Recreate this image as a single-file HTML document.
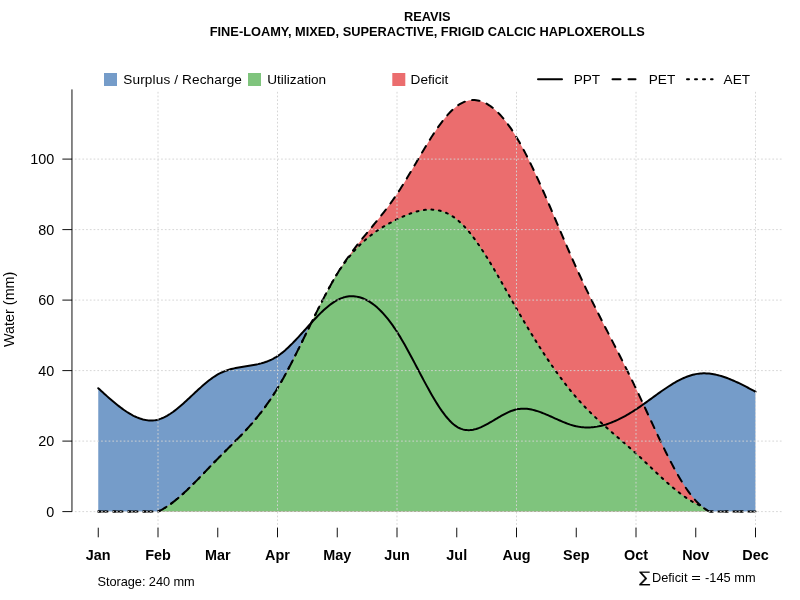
<!DOCTYPE html>
<html lang="en"><head><meta charset="utf-8"><title>REAVIS water balance</title>
<style>html,body{margin:0;padding:0;background:#fff}svg{display:block}.t text{font-family:"Liberation Sans",sans-serif}</style></head>
<body>
<svg width="800" height="600" viewBox="0 0 800 600">
<rect width="800" height="600" fill="#fff"/>
<path d="M98.25,388.23 L99.74,389.60 L101.24,390.96 L102.73,392.33 L104.23,393.69 L105.72,395.03 L107.21,396.37 L108.71,397.70 L110.20,399.00 L111.69,400.30 L113.19,401.57 L114.68,402.82 L116.18,404.04 L117.67,405.24 L119.16,406.41 L120.66,407.55 L122.15,408.66 L123.64,409.73 L125.14,410.76 L126.63,411.76 L128.12,412.71 L129.62,413.62 L131.11,414.48 L132.61,415.30 L134.10,416.06 L135.59,416.77 L137.09,417.43 L138.58,418.02 L140.08,418.56 L141.57,419.04 L143.06,419.45 L144.56,419.80 L146.05,420.08 L147.54,420.29 L149.04,420.43 L150.53,420.49 L152.02,420.47 L153.52,420.38 L155.01,420.20 L156.51,419.94 L158.00,419.60 L159.49,419.17 L160.99,418.65 L162.48,418.05 L163.98,417.38 L165.47,416.63 L166.96,415.82 L168.46,414.94 L169.95,414.00 L171.44,413.00 L172.94,411.95 L174.43,410.84 L175.92,409.70 L177.42,408.51 L178.91,407.28 L180.41,406.02 L181.90,404.72 L183.39,403.41 L184.89,402.06 L186.38,400.70 L187.88,399.32 L189.37,397.94 L190.86,396.54 L192.36,395.14 L193.85,393.74 L195.34,392.35 L196.84,390.96 L198.33,389.58 L199.83,388.22 L201.32,386.88 L202.81,385.56 L204.31,384.27 L205.80,383.01 L207.29,381.78 L208.79,380.59 L210.28,379.44 L211.78,378.34 L213.27,377.29 L214.76,376.30 L216.26,375.36 L217.75,374.48 L219.24,373.66 L220.74,372.91 L222.23,372.22 L223.73,371.58 L225.22,370.99 L226.71,370.45 L228.21,369.95 L229.70,369.50 L231.19,369.08 L232.69,368.70 L234.18,368.35 L235.68,368.02 L237.17,367.72 L238.66,367.44 L240.16,367.18 L241.65,366.93 L243.14,366.69 L244.64,366.46 L246.13,366.23 L247.62,366.00 L249.12,365.77 L250.61,365.53 L252.11,365.28 L253.60,365.02 L255.09,364.74 L256.59,364.44 L258.08,364.12 L259.58,363.76 L261.07,363.38 L262.56,362.96 L264.06,362.51 L265.55,362.01 L267.04,361.47 L268.54,360.88 L270.03,360.24 L271.53,359.55 L273.02,358.79 L274.51,357.98 L276.01,357.10 L277.50,356.15 L278.99,355.13 L280.49,354.04 L281.98,352.89 L283.47,351.67 L284.97,350.40 L286.46,349.08 L287.96,347.71 L289.45,346.29 L290.94,344.83 L292.44,343.34 L293.93,341.81 L295.43,340.25 L296.92,338.66 L298.41,337.06 L299.91,335.43 L301.40,333.79 L302.89,332.14 L304.39,330.48 L305.88,328.82 L307.38,327.17 L308.87,325.51 L310.36,323.87 L311.86,322.23 L313.35,320.62 L314.84,319.02 L316.34,317.45 L317.83,315.90 L319.33,314.39 L320.82,312.91 L322.31,311.47 L323.81,310.08 L325.30,308.73 L326.79,307.43 L328.29,306.19 L329.78,305.01 L331.28,303.88 L332.77,302.83 L334.26,301.84 L335.76,300.93 L337.25,300.10 L338.74,299.35 L340.24,298.68 L341.73,298.09 L343.23,297.58 L344.72,297.15 L346.21,296.80 L347.71,296.54 L349.20,296.35 L350.69,296.25 L352.19,296.22 L353.68,296.28 L355.18,296.41 L356.67,296.62 L358.16,296.92 L359.66,297.29 L361.15,297.74 L362.64,298.27 L364.14,298.88 L365.63,299.57 L367.12,300.33 L368.62,301.18 L370.11,302.10 L371.61,303.10 L373.10,304.17 L374.59,305.33 L376.09,306.56 L377.58,307.87 L379.07,309.26 L380.57,310.72 L382.06,312.26 L383.56,313.87 L385.05,315.57 L386.54,317.33 L388.04,319.18 L389.53,321.10 L391.03,323.09 L392.52,325.16 L394.01,327.31 L395.51,329.53 L397.00,331.83 L398.49,334.19 L399.99,336.63 L401.48,339.14 L402.98,341.70 L404.47,344.31 L405.96,346.97 L407.46,349.67 L408.95,352.41 L410.44,355.18 L411.94,357.98 L413.43,360.79 L414.93,363.62 L416.42,366.46 L417.91,369.31 L419.41,372.15 L420.90,374.98 L422.39,377.80 L423.89,380.61 L425.38,383.39 L426.88,386.14 L428.37,388.85 L429.86,391.53 L431.36,394.16 L432.85,396.74 L434.34,399.26 L435.84,401.73 L437.33,404.12 L438.82,406.44 L440.32,408.69 L441.81,410.85 L443.31,412.92 L444.80,414.89 L446.29,416.77 L447.79,418.54 L449.28,420.20 L450.78,421.75 L452.27,423.17 L453.76,424.46 L455.26,425.62 L456.75,426.65 L458.24,427.53 L459.74,428.27 L461.23,428.88 L462.73,429.37 L464.22,429.73 L465.71,429.98 L467.21,430.11 L468.70,430.15 L470.19,430.08 L471.69,429.92 L473.18,429.67 L474.68,429.34 L476.17,428.94 L477.66,428.46 L479.16,427.91 L480.65,427.31 L482.14,426.65 L483.64,425.95 L485.13,425.20 L486.62,424.41 L488.12,423.59 L489.61,422.74 L491.11,421.88 L492.60,421.00 L494.09,420.11 L495.59,419.21 L497.08,418.32 L498.57,417.43 L500.07,416.56 L501.56,415.70 L503.06,414.87 L504.55,414.07 L506.04,413.30 L507.54,412.57 L509.03,411.89 L510.53,411.26 L512.02,410.69 L513.51,410.18 L515.01,409.74 L516.50,409.38 L517.99,409.09 L519.49,408.88 L520.98,408.74 L522.48,408.67 L523.97,408.67 L525.46,408.73 L526.96,408.86 L528.45,409.04 L529.94,409.27 L531.44,409.56 L532.93,409.90 L534.43,410.28 L535.92,410.70 L537.41,411.16 L538.91,411.66 L540.40,412.18 L541.89,412.74 L543.39,413.32 L544.88,413.93 L546.38,414.55 L547.87,415.20 L549.36,415.85 L550.86,416.52 L552.35,417.19 L553.84,417.86 L555.34,418.54 L556.83,419.21 L558.32,419.88 L559.82,420.54 L561.31,421.19 L562.81,421.82 L564.30,422.43 L565.79,423.02 L567.29,423.59 L568.78,424.13 L570.28,424.64 L571.77,425.11 L573.26,425.55 L574.76,425.94 L576.25,426.30 L577.74,426.60 L579.24,426.86 L580.73,427.07 L582.22,427.24 L583.72,427.37 L585.21,427.45 L586.71,427.49 L588.20,427.49 L589.69,427.44 L591.19,427.36 L592.68,427.23 L594.18,427.07 L595.67,426.87 L597.16,426.63 L598.66,426.35 L600.15,426.03 L601.64,425.69 L603.14,425.30 L604.63,424.88 L606.12,424.43 L607.62,423.94 L609.11,423.42 L610.61,422.87 L612.10,422.29 L613.59,421.68 L615.09,421.04 L616.58,420.37 L618.08,419.68 L619.57,418.95 L621.06,418.20 L622.56,417.42 L624.05,416.62 L625.54,415.80 L627.04,414.94 L628.53,414.07 L630.02,413.17 L631.52,412.25 L633.01,411.32 L634.51,410.35 L636.00,409.38 L637.49,408.38 L638.99,407.36 L640.48,406.33 L641.98,405.28 L643.47,404.23 L644.96,403.16 L646.46,402.09 L647.95,401.01 L649.44,399.92 L650.94,398.83 L652.43,397.74 L653.93,396.66 L655.42,395.57 L656.91,394.49 L658.41,393.42 L659.90,392.36 L661.39,391.30 L662.89,390.26 L664.38,389.23 L665.88,388.22 L667.37,387.23 L668.86,386.25 L670.36,385.30 L671.85,384.37 L673.34,383.46 L674.84,382.58 L676.33,381.73 L677.83,380.91 L679.32,380.13 L680.81,379.37 L682.31,378.66 L683.80,377.98 L685.29,377.34 L686.79,376.74 L688.28,376.18 L689.77,375.68 L691.27,375.21 L692.76,374.80 L694.26,374.44 L695.75,374.12 L697.24,373.87 L698.74,373.66 L700.23,373.51 L701.73,373.41 L703.22,373.36 L704.71,373.35 L706.21,373.39 L707.70,373.48 L709.19,373.61 L710.69,373.78 L712.18,373.99 L713.68,374.24 L715.17,374.53 L716.66,374.86 L718.16,375.22 L719.65,375.61 L721.14,376.04 L722.64,376.50 L724.13,376.99 L725.62,377.50 L727.12,378.05 L728.61,378.62 L730.11,379.21 L731.60,379.83 L733.09,380.47 L734.59,381.13 L736.08,381.81 L737.58,382.51 L739.07,383.22 L740.56,383.95 L742.06,384.69 L743.55,385.44 L745.04,386.21 L746.54,386.98 L748.03,387.76 L749.52,388.55 L751.02,389.35 L752.51,390.15 L754.01,390.95 L755.50,391.75 L755.50,511.60 L98.25,511.60 Z" fill="#759CC9"/>
<path d="M98.25,511.60 L99.74,511.60 L101.24,511.60 L102.73,511.60 L104.23,511.60 L105.72,511.60 L107.21,511.60 L108.71,511.60 L110.20,511.60 L111.69,511.60 L113.19,511.60 L114.68,511.60 L116.18,511.60 L117.67,511.60 L119.16,511.60 L120.66,511.60 L122.15,511.60 L123.64,511.60 L125.14,511.60 L126.63,511.60 L128.12,511.60 L129.62,511.60 L131.11,511.60 L132.61,511.60 L134.10,511.60 L135.59,511.60 L137.09,511.60 L138.58,511.60 L140.08,511.60 L141.57,511.60 L143.06,511.60 L144.56,511.60 L146.05,511.60 L147.54,511.60 L149.04,511.60 L150.53,511.60 L152.02,511.60 L153.52,511.60 L155.01,511.60 L156.51,511.60 L158.00,511.60 L159.49,510.88 L160.99,510.10 L162.48,509.28 L163.98,508.40 L165.47,507.48 L166.96,506.52 L168.46,505.52 L169.95,504.47 L171.44,503.38 L172.94,502.26 L174.43,501.10 L175.92,499.90 L177.42,498.67 L178.91,497.41 L180.41,496.12 L181.90,494.80 L183.39,493.45 L184.89,492.08 L186.38,490.69 L187.88,489.27 L189.37,487.83 L190.86,486.37 L192.36,484.90 L193.85,483.41 L195.34,481.90 L196.84,480.39 L198.33,478.86 L199.83,477.32 L201.32,475.78 L202.81,474.23 L204.31,472.67 L205.80,471.11 L207.29,469.55 L208.79,467.99 L210.28,466.43 L211.78,464.88 L213.27,463.33 L214.76,461.79 L216.26,460.25 L217.75,458.73 L219.24,457.21 L220.74,455.71 L222.23,454.21 L223.73,452.72 L225.22,451.23 L226.71,449.75 L228.21,448.26 L229.70,446.78 L231.19,445.29 L232.69,443.80 L234.18,442.30 L235.68,440.79 L237.17,439.28 L238.66,437.75 L240.16,436.21 L241.65,434.66 L243.14,433.08 L244.64,431.49 L246.13,429.88 L247.62,428.25 L249.12,426.59 L250.61,424.91 L252.11,423.20 L253.60,421.46 L255.09,419.69 L256.59,417.88 L258.08,416.05 L259.58,414.17 L261.07,412.26 L262.56,410.31 L264.06,408.32 L265.55,406.28 L267.04,404.20 L268.54,402.07 L270.03,399.89 L271.53,397.67 L273.02,395.39 L274.51,393.06 L276.01,390.67 L277.50,388.23 L278.99,385.72 L280.49,383.16 L281.98,380.55 L283.47,377.89 L284.97,375.18 L286.46,372.42 L287.96,369.63 L289.45,366.79 L290.94,363.93 L292.44,361.02 L293.93,358.09 L295.43,355.14 L296.92,352.16 L298.41,349.15 L299.91,346.14 L301.40,343.10 L302.89,340.06 L304.39,337.00 L305.88,333.95 L307.38,330.88 L308.87,327.82 L310.36,324.77 L311.86,321.71 L313.35,318.67 L314.84,315.64 L316.34,312.63 L317.83,309.63 L319.33,306.65 L320.82,303.70 L322.31,300.77 L323.81,297.88 L325.30,295.02 L326.79,292.19 L328.29,289.40 L329.78,286.66 L331.28,283.96 L332.77,281.30 L334.26,278.70 L335.76,276.15 L337.25,273.66 L338.74,271.23 L340.24,268.85 L341.73,266.53 L343.23,264.26 L344.72,262.04 L346.21,259.86 L347.71,257.73 L349.20,255.64 L350.69,253.59 L352.19,251.57 L353.68,249.58 L355.18,247.63 L356.67,245.70 L358.16,243.80 L359.66,241.91 L361.15,240.05 L362.64,238.20 L364.14,236.37 L365.63,234.55 L367.12,232.73 L368.62,230.92 L370.11,229.12 L371.61,227.31 L373.10,225.50 L374.59,223.69 L376.09,221.87 L377.58,220.03 L379.07,218.19 L380.57,216.33 L382.06,214.44 L383.56,212.54 L385.05,210.61 L386.54,208.66 L388.04,206.68 L389.53,204.66 L391.03,202.61 L392.52,200.52 L394.01,198.39 L395.51,196.22 L397.00,194.00 L398.49,191.73 L399.99,189.42 L401.48,187.07 L402.98,184.68 L404.47,182.25 L405.96,179.80 L407.46,177.32 L408.95,174.82 L410.44,172.31 L411.94,169.77 L413.43,167.23 L414.93,164.68 L416.42,162.13 L417.91,159.58 L419.41,157.03 L420.90,154.50 L422.39,151.97 L423.89,149.47 L425.38,146.98 L426.88,144.51 L428.37,142.08 L429.86,139.68 L431.36,137.31 L432.85,134.98 L434.34,132.70 L435.84,130.46 L437.33,128.27 L438.82,126.14 L440.32,124.07 L441.81,122.05 L443.31,120.11 L444.80,118.24 L446.29,116.43 L447.79,114.71 L449.28,113.07 L450.78,111.52 L452.27,110.05 L453.76,108.68 L455.26,107.40 L456.75,106.23 L458.24,105.15 L459.74,104.19 L461.23,103.32 L462.73,102.56 L464.22,101.90 L465.71,101.34 L467.21,100.88 L468.70,100.52 L470.19,100.26 L471.69,100.10 L473.18,100.03 L474.68,100.07 L476.17,100.19 L477.66,100.42 L479.16,100.73 L480.65,101.15 L482.14,101.65 L483.64,102.25 L485.13,102.93 L486.62,103.71 L488.12,104.58 L489.61,105.54 L491.11,106.59 L492.60,107.72 L494.09,108.94 L495.59,110.25 L497.08,111.65 L498.57,113.13 L500.07,114.69 L501.56,116.34 L503.06,118.07 L504.55,119.88 L506.04,121.77 L507.54,123.75 L509.03,125.80 L510.53,127.93 L512.02,130.15 L513.51,132.44 L515.01,134.80 L516.50,137.25 L517.99,139.76 L519.49,142.35 L520.98,145.02 L522.48,147.74 L523.97,150.54 L525.46,153.39 L526.96,156.31 L528.45,159.28 L529.94,162.30 L531.44,165.38 L532.93,168.50 L534.43,171.67 L535.92,174.88 L537.41,178.13 L538.91,181.42 L540.40,184.74 L541.89,188.10 L543.39,191.48 L544.88,194.89 L546.38,198.32 L547.87,201.77 L549.36,205.25 L550.86,208.73 L552.35,212.23 L553.84,215.74 L555.34,219.26 L556.83,222.78 L558.32,226.30 L559.82,229.82 L561.31,233.33 L562.81,236.84 L564.30,240.34 L565.79,243.83 L567.29,247.30 L568.78,250.76 L570.28,254.19 L571.77,257.60 L573.26,260.99 L574.76,264.35 L576.25,267.67 L577.74,270.96 L579.24,274.22 L580.73,277.45 L582.22,280.65 L583.72,283.81 L585.21,286.96 L586.71,290.07 L588.20,293.17 L589.69,296.24 L591.19,299.29 L592.68,302.32 L594.18,305.34 L595.67,308.33 L597.16,311.32 L598.66,314.29 L600.15,317.24 L601.64,320.19 L603.14,323.13 L604.63,326.06 L606.12,328.99 L607.62,331.91 L609.11,334.82 L610.61,337.74 L612.10,340.66 L613.59,343.58 L615.09,346.50 L616.58,349.43 L618.08,352.36 L619.57,355.30 L621.06,358.25 L622.56,361.21 L624.05,364.18 L625.54,367.17 L627.04,370.17 L628.53,373.19 L630.02,376.22 L631.52,379.28 L633.01,382.35 L634.51,385.45 L636.00,388.58 L637.49,391.73 L638.99,394.90 L640.48,398.09 L641.98,401.29 L643.47,404.51 L644.96,407.74 L646.46,410.98 L647.95,414.21 L649.44,417.45 L650.94,420.69 L652.43,423.92 L653.93,427.14 L655.42,430.35 L656.91,433.54 L658.41,436.71 L659.90,439.87 L661.39,442.99 L662.89,446.09 L664.38,449.16 L665.88,452.19 L667.37,455.18 L668.86,458.14 L670.36,461.05 L671.85,463.91 L673.34,466.72 L674.84,469.48 L676.33,472.18 L677.83,474.82 L679.32,477.40 L680.81,479.91 L682.31,482.35 L683.80,484.72 L685.29,487.01 L686.79,489.23 L688.28,491.36 L689.77,493.40 L691.27,495.36 L692.76,497.23 L694.26,499.00 L695.75,500.67 L697.24,502.25 L698.74,503.72 L700.23,505.10 L701.73,506.38 L703.22,507.58 L704.71,508.68 L706.21,509.70 L707.70,510.63 L709.19,511.49 L710.69,511.60 L712.18,511.60 L713.68,511.60 L715.17,511.60 L716.66,511.60 L718.16,511.60 L719.65,511.60 L721.14,511.60 L722.64,511.60 L724.13,511.60 L725.62,511.60 L727.12,511.60 L728.61,511.60 L730.11,511.60 L731.60,511.60 L733.09,511.60 L734.59,511.60 L736.08,511.60 L737.58,511.60 L739.07,511.60 L740.56,511.60 L742.06,511.60 L743.55,511.60 L745.04,511.60 L746.54,511.60 L748.03,511.60 L749.52,511.60 L751.02,511.60 L752.51,511.60 L754.01,511.60 L755.50,511.60 L755.50,511.60 L98.25,511.60 Z" fill="#EB6D6E"/>
<path d="M98.25,511.60 L99.74,511.60 L101.24,511.60 L102.73,511.60 L104.23,511.60 L105.72,511.60 L107.21,511.60 L108.71,511.60 L110.20,511.60 L111.69,511.60 L113.19,511.60 L114.68,511.60 L116.18,511.60 L117.67,511.60 L119.16,511.60 L120.66,511.60 L122.15,511.60 L123.64,511.60 L125.14,511.60 L126.63,511.60 L128.12,511.60 L129.62,511.60 L131.11,511.60 L132.61,511.60 L134.10,511.60 L135.59,511.60 L137.09,511.60 L138.58,511.60 L140.08,511.60 L141.57,511.60 L143.06,511.60 L144.56,511.60 L146.05,511.60 L147.54,511.60 L149.04,511.60 L150.53,511.60 L152.02,511.60 L153.52,511.60 L155.01,511.60 L156.51,511.60 L158.00,511.60 L159.49,510.88 L160.99,510.10 L162.48,509.28 L163.98,508.40 L165.47,507.48 L166.96,506.52 L168.46,505.52 L169.95,504.47 L171.44,503.38 L172.94,502.26 L174.43,501.10 L175.92,499.90 L177.42,498.67 L178.91,497.41 L180.41,496.12 L181.90,494.80 L183.39,493.45 L184.89,492.08 L186.38,490.69 L187.88,489.27 L189.37,487.83 L190.86,486.37 L192.36,484.90 L193.85,483.41 L195.34,481.90 L196.84,480.39 L198.33,478.86 L199.83,477.32 L201.32,475.78 L202.81,474.23 L204.31,472.67 L205.80,471.11 L207.29,469.55 L208.79,467.99 L210.28,466.43 L211.78,464.88 L213.27,463.33 L214.76,461.79 L216.26,460.25 L217.75,458.73 L219.24,457.22 L220.74,455.72 L222.23,454.23 L223.73,452.75 L225.22,451.27 L226.71,449.80 L228.21,448.33 L229.70,446.85 L231.19,445.37 L232.69,443.89 L234.18,442.41 L235.68,440.91 L237.17,439.40 L238.66,437.89 L240.16,436.35 L241.65,434.81 L243.14,433.24 L244.64,431.66 L246.13,430.05 L247.62,428.42 L249.12,426.77 L250.61,425.09 L252.11,423.38 L253.60,421.65 L255.09,419.88 L256.59,418.07 L258.08,416.23 L259.58,414.35 L261.07,412.44 L262.56,410.48 L264.06,408.48 L265.55,406.43 L267.04,404.34 L268.54,402.20 L270.03,400.01 L271.53,397.76 L273.02,395.46 L274.51,393.11 L276.01,390.70 L277.50,388.23 L278.99,385.72 L280.49,383.16 L281.98,380.55 L283.47,377.89 L284.97,375.18 L286.46,372.42 L287.96,369.63 L289.45,366.79 L290.94,363.93 L292.44,361.02 L293.93,358.09 L295.43,355.14 L296.92,352.16 L298.41,349.15 L299.91,346.14 L301.40,343.10 L302.89,340.06 L304.39,337.00 L305.88,333.95 L307.38,330.88 L308.87,327.82 L310.36,324.77 L311.86,321.71 L313.35,318.67 L314.84,315.64 L316.34,312.63 L317.83,309.63 L319.33,306.65 L320.82,303.70 L322.31,300.77 L323.81,297.88 L325.30,295.02 L326.79,292.19 L328.29,289.40 L329.78,286.66 L331.28,283.96 L332.77,281.30 L334.26,278.70 L335.76,276.15 L337.25,273.66 L338.74,271.34 L340.24,269.08 L341.73,266.89 L343.23,264.76 L344.72,262.70 L346.21,260.70 L347.71,258.76 L349.20,256.88 L350.69,255.05 L352.19,253.28 L353.68,251.57 L355.18,249.91 L356.67,248.30 L358.16,246.74 L359.66,245.23 L361.15,243.77 L362.64,242.36 L364.14,240.99 L365.63,239.66 L367.12,238.37 L368.62,237.13 L370.11,235.93 L371.61,234.76 L373.10,233.63 L374.59,232.54 L376.09,231.47 L377.58,230.45 L379.07,229.45 L380.57,228.48 L382.06,227.54 L383.56,226.63 L385.05,225.74 L386.54,224.87 L388.04,224.03 L389.53,223.21 L391.03,222.41 L392.52,221.63 L394.01,220.86 L395.51,220.11 L397.00,219.38 L398.49,218.66 L399.99,217.95 L401.48,217.26 L402.98,216.58 L404.47,215.93 L405.96,215.30 L407.46,214.69 L408.95,214.11 L410.44,213.55 L411.94,213.02 L413.43,212.52 L414.93,212.06 L416.42,211.63 L417.91,211.23 L419.41,210.88 L420.90,210.56 L422.39,210.28 L423.89,210.05 L425.38,209.86 L426.88,209.72 L428.37,209.62 L429.86,209.58 L431.36,209.59 L432.85,209.65 L434.34,209.77 L435.84,209.94 L437.33,210.17 L438.82,210.47 L440.32,210.82 L441.81,211.24 L443.31,211.73 L444.80,212.29 L446.29,212.91 L447.79,213.61 L449.28,214.37 L450.78,215.22 L452.27,216.14 L453.76,217.14 L455.26,218.22 L456.75,219.38 L458.24,220.62 L459.74,221.95 L461.23,223.35 L462.73,224.83 L464.22,226.39 L465.71,228.02 L467.21,229.71 L468.70,231.48 L470.19,233.30 L471.69,235.19 L473.18,237.14 L474.68,239.15 L476.17,241.21 L477.66,243.32 L479.16,245.48 L480.65,247.69 L482.14,249.94 L483.64,252.24 L485.13,254.58 L486.62,256.95 L488.12,259.36 L489.61,261.80 L491.11,264.28 L492.60,266.78 L494.09,269.30 L495.59,271.85 L497.08,274.42 L498.57,277.00 L500.07,279.61 L501.56,282.22 L503.06,284.85 L504.55,287.48 L506.04,290.12 L507.54,292.76 L509.03,295.41 L510.53,298.05 L512.02,300.69 L513.51,303.32 L515.01,305.95 L516.50,308.56 L517.99,311.16 L519.49,313.74 L520.98,316.32 L522.48,318.87 L523.97,321.41 L525.46,323.94 L526.96,326.44 L528.45,328.94 L529.94,331.41 L531.44,333.87 L532.93,336.31 L534.43,338.73 L535.92,341.13 L537.41,343.51 L538.91,345.88 L540.40,348.22 L541.89,350.55 L543.39,352.85 L544.88,355.13 L546.38,357.39 L547.87,359.63 L549.36,361.84 L550.86,364.03 L552.35,366.20 L553.84,368.35 L555.34,370.47 L556.83,372.57 L558.32,374.64 L559.82,376.68 L561.31,378.70 L562.81,380.70 L564.30,382.66 L565.79,384.60 L567.29,386.52 L568.78,388.40 L570.28,390.26 L571.77,392.08 L573.26,393.88 L574.76,395.65 L576.25,397.39 L577.74,399.10 L579.24,400.78 L580.73,402.43 L582.22,404.05 L583.72,405.65 L585.21,407.22 L586.71,408.77 L588.20,410.29 L589.69,411.80 L591.19,413.28 L592.68,414.74 L594.18,416.19 L595.67,417.61 L597.16,419.02 L598.66,420.42 L600.15,421.80 L601.64,423.17 L603.14,424.52 L604.63,425.86 L606.12,427.20 L607.62,428.52 L609.11,429.84 L610.61,431.15 L612.10,432.46 L613.59,433.76 L615.09,435.05 L616.58,436.35 L618.08,437.64 L619.57,438.93 L621.06,440.23 L622.56,441.52 L624.05,442.82 L625.54,444.12 L627.04,445.43 L628.53,446.74 L630.02,448.06 L631.52,449.39 L633.01,450.73 L634.51,452.08 L636.00,453.44 L637.49,454.81 L638.99,456.19 L640.48,457.59 L641.98,458.99 L643.47,460.40 L644.96,461.81 L646.46,463.23 L647.95,464.65 L649.44,466.08 L650.94,467.50 L652.43,468.92 L653.93,470.35 L655.42,471.76 L656.91,473.17 L658.41,474.58 L659.90,475.97 L661.39,477.36 L662.89,478.74 L664.38,480.10 L665.88,481.45 L667.37,482.79 L668.86,484.11 L670.36,485.41 L671.85,486.69 L673.34,487.95 L674.84,489.19 L676.33,490.41 L677.83,491.60 L679.32,492.77 L680.81,493.91 L682.31,495.02 L683.80,496.10 L685.29,497.15 L686.79,498.16 L688.28,499.14 L689.77,500.09 L691.27,501.00 L692.76,501.87 L694.26,502.70 L695.75,503.49 L697.24,504.24 L698.74,504.95 L700.23,505.61 L701.73,506.38 L703.22,507.58 L704.71,508.68 L706.21,509.70 L707.70,510.63 L709.19,511.49 L710.69,511.60 L712.18,511.60 L713.68,511.60 L715.17,511.60 L716.66,511.60 L718.16,511.60 L719.65,511.60 L721.14,511.60 L722.64,511.60 L724.13,511.60 L725.62,511.60 L727.12,511.60 L728.61,511.60 L730.11,511.60 L731.60,511.60 L733.09,511.60 L734.59,511.60 L736.08,511.60 L737.58,511.60 L739.07,511.60 L740.56,511.60 L742.06,511.60 L743.55,511.60 L745.04,511.60 L746.54,511.60 L748.03,511.60 L749.52,511.60 L751.02,511.60 L752.51,511.60 L754.01,511.60 L755.50,511.60 L755.50,511.60 L98.25,511.60 Z" fill="#7FC47D"/>
<path d="M98.25,388.23 L99.74,389.60 L101.24,390.96 L102.73,392.33 L104.23,393.69 L105.72,395.03 L107.21,396.37 L108.71,397.70 L110.20,399.00 L111.69,400.30 L113.19,401.57 L114.68,402.82 L116.18,404.04 L117.67,405.24 L119.16,406.41 L120.66,407.55 L122.15,408.66 L123.64,409.73 L125.14,410.76 L126.63,411.76 L128.12,412.71 L129.62,413.62 L131.11,414.48 L132.61,415.30 L134.10,416.06 L135.59,416.77 L137.09,417.43 L138.58,418.02 L140.08,418.56 L141.57,419.04 L143.06,419.45 L144.56,419.80 L146.05,420.08 L147.54,420.29 L149.04,420.43 L150.53,420.49 L152.02,420.47 L153.52,420.38 L155.01,420.20 L156.51,419.94 L158.00,419.60 L159.49,419.17 L160.99,418.65 L162.48,418.05 L163.98,417.38 L165.47,416.63 L166.96,415.82 L168.46,414.94 L169.95,414.00 L171.44,413.00 L172.94,411.95 L174.43,410.84 L175.92,409.70 L177.42,408.51 L178.91,407.28 L180.41,406.02 L181.90,404.72 L183.39,403.41 L184.89,402.06 L186.38,400.70 L187.88,399.32 L189.37,397.94 L190.86,396.54 L192.36,395.14 L193.85,393.74 L195.34,392.35 L196.84,390.96 L198.33,389.58 L199.83,388.22 L201.32,386.88 L202.81,385.56 L204.31,384.27 L205.80,383.01 L207.29,381.78 L208.79,380.59 L210.28,379.44 L211.78,378.34 L213.27,377.29 L214.76,376.30 L216.26,375.36 L217.75,374.48 L219.24,373.66 L220.74,372.91 L222.23,372.22 L223.73,371.58 L225.22,370.99 L226.71,370.45 L228.21,369.95 L229.70,369.50 L231.19,369.08 L232.69,368.70 L234.18,368.35 L235.68,368.02 L237.17,367.72 L238.66,367.44 L240.16,367.18 L241.65,366.93 L243.14,366.69 L244.64,366.46 L246.13,366.23 L247.62,366.00 L249.12,365.77 L250.61,365.53 L252.11,365.28 L253.60,365.02 L255.09,364.74 L256.59,364.44 L258.08,364.12 L259.58,363.76 L261.07,363.38 L262.56,362.96 L264.06,362.51 L265.55,362.01 L267.04,361.47 L268.54,360.88 L270.03,360.24 L271.53,359.55 L273.02,358.79 L274.51,357.98 L276.01,357.10 L277.50,356.15 L278.99,355.13 L280.49,354.04 L281.98,352.89 L283.47,351.67 L284.97,350.40 L286.46,349.08 L287.96,347.71 L289.45,346.29 L290.94,344.83 L292.44,343.34 L293.93,341.81 L295.43,340.25 L296.92,338.66 L298.41,337.06 L299.91,335.43 L301.40,333.79 L302.89,332.14 L304.39,330.48 L305.88,328.82 L307.38,327.17 L308.87,325.51 L310.36,323.87 L311.86,322.23 L313.35,320.62 L314.84,319.02 L316.34,317.45 L317.83,315.90 L319.33,314.39 L320.82,312.91 L322.31,311.47 L323.81,310.08 L325.30,308.73 L326.79,307.43 L328.29,306.19 L329.78,305.01 L331.28,303.88 L332.77,302.83 L334.26,301.84 L335.76,300.93 L337.25,300.10 L338.74,299.35 L340.24,298.68 L341.73,298.09 L343.23,297.58 L344.72,297.15 L346.21,296.80 L347.71,296.54 L349.20,296.35 L350.69,296.25 L352.19,296.22 L353.68,296.28 L355.18,296.41 L356.67,296.62 L358.16,296.92 L359.66,297.29 L361.15,297.74 L362.64,298.27 L364.14,298.88 L365.63,299.57 L367.12,300.33 L368.62,301.18 L370.11,302.10 L371.61,303.10 L373.10,304.17 L374.59,305.33 L376.09,306.56 L377.58,307.87 L379.07,309.26 L380.57,310.72 L382.06,312.26 L383.56,313.87 L385.05,315.57 L386.54,317.33 L388.04,319.18 L389.53,321.10 L391.03,323.09 L392.52,325.16 L394.01,327.31 L395.51,329.53 L397.00,331.83 L398.49,334.19 L399.99,336.63 L401.48,339.14 L402.98,341.70 L404.47,344.31 L405.96,346.97 L407.46,349.67 L408.95,352.41 L410.44,355.18 L411.94,357.98 L413.43,360.79 L414.93,363.62 L416.42,366.46 L417.91,369.31 L419.41,372.15 L420.90,374.98 L422.39,377.80 L423.89,380.61 L425.38,383.39 L426.88,386.14 L428.37,388.85 L429.86,391.53 L431.36,394.16 L432.85,396.74 L434.34,399.26 L435.84,401.73 L437.33,404.12 L438.82,406.44 L440.32,408.69 L441.81,410.85 L443.31,412.92 L444.80,414.89 L446.29,416.77 L447.79,418.54 L449.28,420.20 L450.78,421.75 L452.27,423.17 L453.76,424.46 L455.26,425.62 L456.75,426.65 L458.24,427.53 L459.74,428.27 L461.23,428.88 L462.73,429.37 L464.22,429.73 L465.71,429.98 L467.21,430.11 L468.70,430.15 L470.19,430.08 L471.69,429.92 L473.18,429.67 L474.68,429.34 L476.17,428.94 L477.66,428.46 L479.16,427.91 L480.65,427.31 L482.14,426.65 L483.64,425.95 L485.13,425.20 L486.62,424.41 L488.12,423.59 L489.61,422.74 L491.11,421.88 L492.60,421.00 L494.09,420.11 L495.59,419.21 L497.08,418.32 L498.57,417.43 L500.07,416.56 L501.56,415.70 L503.06,414.87 L504.55,414.07 L506.04,413.30 L507.54,412.57 L509.03,411.89 L510.53,411.26 L512.02,410.69 L513.51,410.18 L515.01,409.74 L516.50,409.38 L517.99,409.09 L519.49,408.88 L520.98,408.74 L522.48,408.67 L523.97,408.67 L525.46,408.73 L526.96,408.86 L528.45,409.04 L529.94,409.27 L531.44,409.56 L532.93,409.90 L534.43,410.28 L535.92,410.70 L537.41,411.16 L538.91,411.66 L540.40,412.18 L541.89,412.74 L543.39,413.32 L544.88,413.93 L546.38,414.55 L547.87,415.20 L549.36,415.85 L550.86,416.52 L552.35,417.19 L553.84,417.86 L555.34,418.54 L556.83,419.21 L558.32,419.88 L559.82,420.54 L561.31,421.19 L562.81,421.82 L564.30,422.43 L565.79,423.02 L567.29,423.59 L568.78,424.13 L570.28,424.64 L571.77,425.11 L573.26,425.55 L574.76,425.94 L576.25,426.30 L577.74,426.60 L579.24,426.86 L580.73,427.07 L582.22,427.24 L583.72,427.37 L585.21,427.45 L586.71,427.49 L588.20,427.49 L589.69,427.44 L591.19,427.36 L592.68,427.23 L594.18,427.07 L595.67,426.87 L597.16,426.63 L598.66,426.35 L600.15,426.03 L601.64,425.69 L603.14,425.30 L604.63,424.88 L606.12,424.43 L607.62,423.94 L609.11,423.42 L610.61,422.87 L612.10,422.29 L613.59,421.68 L615.09,421.04 L616.58,420.37 L618.08,419.68 L619.57,418.95 L621.06,418.20 L622.56,417.42 L624.05,416.62 L625.54,415.80 L627.04,414.94 L628.53,414.07 L630.02,413.17 L631.52,412.25 L633.01,411.32 L634.51,410.35 L636.00,409.38 L637.49,408.38 L638.99,407.36 L640.48,406.33 L641.98,405.28 L643.47,404.23 L644.96,403.16 L646.46,402.09 L647.95,401.01 L649.44,399.92 L650.94,398.83 L652.43,397.74 L653.93,396.66 L655.42,395.57 L656.91,394.49 L658.41,393.42 L659.90,392.36 L661.39,391.30 L662.89,390.26 L664.38,389.23 L665.88,388.22 L667.37,387.23 L668.86,386.25 L670.36,385.30 L671.85,384.37 L673.34,383.46 L674.84,382.58 L676.33,381.73 L677.83,380.91 L679.32,380.13 L680.81,379.37 L682.31,378.66 L683.80,377.98 L685.29,377.34 L686.79,376.74 L688.28,376.18 L689.77,375.68 L691.27,375.21 L692.76,374.80 L694.26,374.44 L695.75,374.12 L697.24,373.87 L698.74,373.66 L700.23,373.51 L701.73,373.41 L703.22,373.36 L704.71,373.35 L706.21,373.39 L707.70,373.48 L709.19,373.61 L710.69,373.78 L712.18,373.99 L713.68,374.24 L715.17,374.53 L716.66,374.86 L718.16,375.22 L719.65,375.61 L721.14,376.04 L722.64,376.50 L724.13,376.99 L725.62,377.50 L727.12,378.05 L728.61,378.62 L730.11,379.21 L731.60,379.83 L733.09,380.47 L734.59,381.13 L736.08,381.81 L737.58,382.51 L739.07,383.22 L740.56,383.95 L742.06,384.69 L743.55,385.44 L745.04,386.21 L746.54,386.98 L748.03,387.76 L749.52,388.55 L751.02,389.35 L752.51,390.15 L754.01,390.95 L755.50,391.75" fill="none" stroke="#000" stroke-width="2" stroke-linecap="round" stroke-linejoin="round"/>
<path d="M98.25,511.60 L99.74,511.60 L101.24,511.60 L102.73,511.60 L104.23,511.60 L105.72,511.60 L107.21,511.60 L108.71,511.60 L110.20,511.60 L111.69,511.60 L113.19,511.60 L114.68,511.60 L116.18,511.60 L117.67,511.60 L119.16,511.60 L120.66,511.60 L122.15,511.60 L123.64,511.60 L125.14,511.60 L126.63,511.60 L128.12,511.60 L129.62,511.60 L131.11,511.60 L132.61,511.60 L134.10,511.60 L135.59,511.60 L137.09,511.60 L138.58,511.60 L140.08,511.60 L141.57,511.60 L143.06,511.60 L144.56,511.60 L146.05,511.60 L147.54,511.60 L149.04,511.60 L150.53,511.60 L152.02,511.60 L153.52,511.60 L155.01,511.60 L156.51,511.60 L158.00,511.60 L159.49,510.88 L160.99,510.10 L162.48,509.28 L163.98,508.40 L165.47,507.48 L166.96,506.52 L168.46,505.52 L169.95,504.47 L171.44,503.38 L172.94,502.26 L174.43,501.10 L175.92,499.90 L177.42,498.67 L178.91,497.41 L180.41,496.12 L181.90,494.80 L183.39,493.45 L184.89,492.08 L186.38,490.69 L187.88,489.27 L189.37,487.83 L190.86,486.37 L192.36,484.90 L193.85,483.41 L195.34,481.90 L196.84,480.39 L198.33,478.86 L199.83,477.32 L201.32,475.78 L202.81,474.23 L204.31,472.67 L205.80,471.11 L207.29,469.55 L208.79,467.99 L210.28,466.43 L211.78,464.88 L213.27,463.33 L214.76,461.79 L216.26,460.25 L217.75,458.73 L219.24,457.21 L220.74,455.71 L222.23,454.21 L223.73,452.72 L225.22,451.23 L226.71,449.75 L228.21,448.26 L229.70,446.78 L231.19,445.29 L232.69,443.80 L234.18,442.30 L235.68,440.79 L237.17,439.28 L238.66,437.75 L240.16,436.21 L241.65,434.66 L243.14,433.08 L244.64,431.49 L246.13,429.88 L247.62,428.25 L249.12,426.59 L250.61,424.91 L252.11,423.20 L253.60,421.46 L255.09,419.69 L256.59,417.88 L258.08,416.05 L259.58,414.17 L261.07,412.26 L262.56,410.31 L264.06,408.32 L265.55,406.28 L267.04,404.20 L268.54,402.07 L270.03,399.89 L271.53,397.67 L273.02,395.39 L274.51,393.06 L276.01,390.67 L277.50,388.23 L278.99,385.72 L280.49,383.16 L281.98,380.55 L283.47,377.89 L284.97,375.18 L286.46,372.42 L287.96,369.63 L289.45,366.79 L290.94,363.93 L292.44,361.02 L293.93,358.09 L295.43,355.14 L296.92,352.16 L298.41,349.15 L299.91,346.14 L301.40,343.10 L302.89,340.06 L304.39,337.00 L305.88,333.95 L307.38,330.88 L308.87,327.82 L310.36,324.77 L311.86,321.71 L313.35,318.67 L314.84,315.64 L316.34,312.63 L317.83,309.63 L319.33,306.65 L320.82,303.70 L322.31,300.77 L323.81,297.88 L325.30,295.02 L326.79,292.19 L328.29,289.40 L329.78,286.66 L331.28,283.96 L332.77,281.30 L334.26,278.70 L335.76,276.15 L337.25,273.66 L338.74,271.23 L340.24,268.85 L341.73,266.53 L343.23,264.26 L344.72,262.04 L346.21,259.86 L347.71,257.73 L349.20,255.64 L350.69,253.59 L352.19,251.57 L353.68,249.58 L355.18,247.63 L356.67,245.70 L358.16,243.80 L359.66,241.91 L361.15,240.05 L362.64,238.20 L364.14,236.37 L365.63,234.55 L367.12,232.73 L368.62,230.92 L370.11,229.12 L371.61,227.31 L373.10,225.50 L374.59,223.69 L376.09,221.87 L377.58,220.03 L379.07,218.19 L380.57,216.33 L382.06,214.44 L383.56,212.54 L385.05,210.61 L386.54,208.66 L388.04,206.68 L389.53,204.66 L391.03,202.61 L392.52,200.52 L394.01,198.39 L395.51,196.22 L397.00,194.00 L398.49,191.73 L399.99,189.42 L401.48,187.07 L402.98,184.68 L404.47,182.25 L405.96,179.80 L407.46,177.32 L408.95,174.82 L410.44,172.31 L411.94,169.77 L413.43,167.23 L414.93,164.68 L416.42,162.13 L417.91,159.58 L419.41,157.03 L420.90,154.50 L422.39,151.97 L423.89,149.47 L425.38,146.98 L426.88,144.51 L428.37,142.08 L429.86,139.68 L431.36,137.31 L432.85,134.98 L434.34,132.70 L435.84,130.46 L437.33,128.27 L438.82,126.14 L440.32,124.07 L441.81,122.05 L443.31,120.11 L444.80,118.24 L446.29,116.43 L447.79,114.71 L449.28,113.07 L450.78,111.52 L452.27,110.05 L453.76,108.68 L455.26,107.40 L456.75,106.23 L458.24,105.15 L459.74,104.19 L461.23,103.32 L462.73,102.56 L464.22,101.90 L465.71,101.34 L467.21,100.88 L468.70,100.52 L470.19,100.26 L471.69,100.10 L473.18,100.03 L474.68,100.07 L476.17,100.19 L477.66,100.42 L479.16,100.73 L480.65,101.15 L482.14,101.65 L483.64,102.25 L485.13,102.93 L486.62,103.71 L488.12,104.58 L489.61,105.54 L491.11,106.59 L492.60,107.72 L494.09,108.94 L495.59,110.25 L497.08,111.65 L498.57,113.13 L500.07,114.69 L501.56,116.34 L503.06,118.07 L504.55,119.88 L506.04,121.77 L507.54,123.75 L509.03,125.80 L510.53,127.93 L512.02,130.15 L513.51,132.44 L515.01,134.80 L516.50,137.25 L517.99,139.76 L519.49,142.35 L520.98,145.02 L522.48,147.74 L523.97,150.54 L525.46,153.39 L526.96,156.31 L528.45,159.28 L529.94,162.30 L531.44,165.38 L532.93,168.50 L534.43,171.67 L535.92,174.88 L537.41,178.13 L538.91,181.42 L540.40,184.74 L541.89,188.10 L543.39,191.48 L544.88,194.89 L546.38,198.32 L547.87,201.77 L549.36,205.25 L550.86,208.73 L552.35,212.23 L553.84,215.74 L555.34,219.26 L556.83,222.78 L558.32,226.30 L559.82,229.82 L561.31,233.33 L562.81,236.84 L564.30,240.34 L565.79,243.83 L567.29,247.30 L568.78,250.76 L570.28,254.19 L571.77,257.60 L573.26,260.99 L574.76,264.35 L576.25,267.67 L577.74,270.96 L579.24,274.22 L580.73,277.45 L582.22,280.65 L583.72,283.81 L585.21,286.96 L586.71,290.07 L588.20,293.17 L589.69,296.24 L591.19,299.29 L592.68,302.32 L594.18,305.34 L595.67,308.33 L597.16,311.32 L598.66,314.29 L600.15,317.24 L601.64,320.19 L603.14,323.13 L604.63,326.06 L606.12,328.99 L607.62,331.91 L609.11,334.82 L610.61,337.74 L612.10,340.66 L613.59,343.58 L615.09,346.50 L616.58,349.43 L618.08,352.36 L619.57,355.30 L621.06,358.25 L622.56,361.21 L624.05,364.18 L625.54,367.17 L627.04,370.17 L628.53,373.19 L630.02,376.22 L631.52,379.28 L633.01,382.35 L634.51,385.45 L636.00,388.58 L637.49,391.73 L638.99,394.90 L640.48,398.09 L641.98,401.29 L643.47,404.51 L644.96,407.74 L646.46,410.98 L647.95,414.21 L649.44,417.45 L650.94,420.69 L652.43,423.92 L653.93,427.14 L655.42,430.35 L656.91,433.54 L658.41,436.71 L659.90,439.87 L661.39,442.99 L662.89,446.09 L664.38,449.16 L665.88,452.19 L667.37,455.18 L668.86,458.14 L670.36,461.05 L671.85,463.91 L673.34,466.72 L674.84,469.48 L676.33,472.18 L677.83,474.82 L679.32,477.40 L680.81,479.91 L682.31,482.35 L683.80,484.72 L685.29,487.01 L686.79,489.23 L688.28,491.36 L689.77,493.40 L691.27,495.36 L692.76,497.23 L694.26,499.00 L695.75,500.67 L697.24,502.25 L698.74,503.72 L700.23,505.10 L701.73,506.38 L703.22,507.58 L704.71,508.68 L706.21,509.70 L707.70,510.63 L709.19,511.49 L710.69,511.60 L712.18,511.60 L713.68,511.60 L715.17,511.60 L716.66,511.60 L718.16,511.60 L719.65,511.60 L721.14,511.60 L722.64,511.60 L724.13,511.60 L725.62,511.60 L727.12,511.60 L728.61,511.60 L730.11,511.60 L731.60,511.60 L733.09,511.60 L734.59,511.60 L736.08,511.60 L737.58,511.60 L739.07,511.60 L740.56,511.60 L742.06,511.60 L743.55,511.60 L745.04,511.60 L746.54,511.60 L748.03,511.60 L749.52,511.60 L751.02,511.60 L752.51,511.60 L754.01,511.60 L755.50,511.60" fill="none" stroke="#000" stroke-width="2" stroke-dasharray="7.5 7.5" stroke-linecap="round" stroke-linejoin="round"/>
<path d="M98.25,511.60 L99.74,511.60 L101.24,511.60 L102.73,511.60 L104.23,511.60 L105.72,511.60 L107.21,511.60 L108.71,511.60 L110.20,511.60 L111.69,511.60 L113.19,511.60 L114.68,511.60 L116.18,511.60 L117.67,511.60 L119.16,511.60 L120.66,511.60 L122.15,511.60 L123.64,511.60 L125.14,511.60 L126.63,511.60 L128.12,511.60 L129.62,511.60 L131.11,511.60 L132.61,511.60 L134.10,511.60 L135.59,511.60 L137.09,511.60 L138.58,511.60 L140.08,511.60 L141.57,511.60 L143.06,511.60 L144.56,511.60 L146.05,511.60 L147.54,511.60 L149.04,511.60 L150.53,511.60 L152.02,511.60 L153.52,511.60 L155.01,511.60 L156.51,511.60 L158.00,511.60 L159.49,510.88 L160.99,510.10 L162.48,509.28 L163.98,508.40 L165.47,507.48 L166.96,506.52 L168.46,505.52 L169.95,504.47 L171.44,503.38 L172.94,502.26 L174.43,501.10 L175.92,499.90 L177.42,498.67 L178.91,497.41 L180.41,496.12 L181.90,494.80 L183.39,493.45 L184.89,492.08 L186.38,490.69 L187.88,489.27 L189.37,487.83 L190.86,486.37 L192.36,484.90 L193.85,483.41 L195.34,481.90 L196.84,480.39 L198.33,478.86 L199.83,477.32 L201.32,475.78 L202.81,474.23 L204.31,472.67 L205.80,471.11 L207.29,469.55 L208.79,467.99 L210.28,466.43 L211.78,464.88 L213.27,463.33 L214.76,461.79 L216.26,460.25 L217.75,458.73 L219.24,457.22 L220.74,455.72 L222.23,454.23 L223.73,452.75 L225.22,451.27 L226.71,449.80 L228.21,448.33 L229.70,446.85 L231.19,445.37 L232.69,443.89 L234.18,442.41 L235.68,440.91 L237.17,439.40 L238.66,437.89 L240.16,436.35 L241.65,434.81 L243.14,433.24 L244.64,431.66 L246.13,430.05 L247.62,428.42 L249.12,426.77 L250.61,425.09 L252.11,423.38 L253.60,421.65 L255.09,419.88 L256.59,418.07 L258.08,416.23 L259.58,414.35 L261.07,412.44 L262.56,410.48 L264.06,408.48 L265.55,406.43 L267.04,404.34 L268.54,402.20 L270.03,400.01 L271.53,397.76 L273.02,395.46 L274.51,393.11 L276.01,390.70 L277.50,388.23 L278.99,385.72 L280.49,383.16 L281.98,380.55 L283.47,377.89 L284.97,375.18 L286.46,372.42 L287.96,369.63 L289.45,366.79 L290.94,363.93 L292.44,361.02 L293.93,358.09 L295.43,355.14 L296.92,352.16 L298.41,349.15 L299.91,346.14 L301.40,343.10 L302.89,340.06 L304.39,337.00 L305.88,333.95 L307.38,330.88 L308.87,327.82 L310.36,324.77 L311.86,321.71 L313.35,318.67 L314.84,315.64 L316.34,312.63 L317.83,309.63 L319.33,306.65 L320.82,303.70 L322.31,300.77 L323.81,297.88 L325.30,295.02 L326.79,292.19 L328.29,289.40 L329.78,286.66 L331.28,283.96 L332.77,281.30 L334.26,278.70 L335.76,276.15 L337.25,273.66 L338.74,271.34 L340.24,269.08 L341.73,266.89 L343.23,264.76 L344.72,262.70 L346.21,260.70 L347.71,258.76 L349.20,256.88 L350.69,255.05 L352.19,253.28 L353.68,251.57 L355.18,249.91 L356.67,248.30 L358.16,246.74 L359.66,245.23 L361.15,243.77 L362.64,242.36 L364.14,240.99 L365.63,239.66 L367.12,238.37 L368.62,237.13 L370.11,235.93 L371.61,234.76 L373.10,233.63 L374.59,232.54 L376.09,231.47 L377.58,230.45 L379.07,229.45 L380.57,228.48 L382.06,227.54 L383.56,226.63 L385.05,225.74 L386.54,224.87 L388.04,224.03 L389.53,223.21 L391.03,222.41 L392.52,221.63 L394.01,220.86 L395.51,220.11 L397.00,219.38 L398.49,218.66 L399.99,217.95 L401.48,217.26 L402.98,216.58 L404.47,215.93 L405.96,215.30 L407.46,214.69 L408.95,214.11 L410.44,213.55 L411.94,213.02 L413.43,212.52 L414.93,212.06 L416.42,211.63 L417.91,211.23 L419.41,210.88 L420.90,210.56 L422.39,210.28 L423.89,210.05 L425.38,209.86 L426.88,209.72 L428.37,209.62 L429.86,209.58 L431.36,209.59 L432.85,209.65 L434.34,209.77 L435.84,209.94 L437.33,210.17 L438.82,210.47 L440.32,210.82 L441.81,211.24 L443.31,211.73 L444.80,212.29 L446.29,212.91 L447.79,213.61 L449.28,214.37 L450.78,215.22 L452.27,216.14 L453.76,217.14 L455.26,218.22 L456.75,219.38 L458.24,220.62 L459.74,221.95 L461.23,223.35 L462.73,224.83 L464.22,226.39 L465.71,228.02 L467.21,229.71 L468.70,231.48 L470.19,233.30 L471.69,235.19 L473.18,237.14 L474.68,239.15 L476.17,241.21 L477.66,243.32 L479.16,245.48 L480.65,247.69 L482.14,249.94 L483.64,252.24 L485.13,254.58 L486.62,256.95 L488.12,259.36 L489.61,261.80 L491.11,264.28 L492.60,266.78 L494.09,269.30 L495.59,271.85 L497.08,274.42 L498.57,277.00 L500.07,279.61 L501.56,282.22 L503.06,284.85 L504.55,287.48 L506.04,290.12 L507.54,292.76 L509.03,295.41 L510.53,298.05 L512.02,300.69 L513.51,303.32 L515.01,305.95 L516.50,308.56 L517.99,311.16 L519.49,313.74 L520.98,316.32 L522.48,318.87 L523.97,321.41 L525.46,323.94 L526.96,326.44 L528.45,328.94 L529.94,331.41 L531.44,333.87 L532.93,336.31 L534.43,338.73 L535.92,341.13 L537.41,343.51 L538.91,345.88 L540.40,348.22 L541.89,350.55 L543.39,352.85 L544.88,355.13 L546.38,357.39 L547.87,359.63 L549.36,361.84 L550.86,364.03 L552.35,366.20 L553.84,368.35 L555.34,370.47 L556.83,372.57 L558.32,374.64 L559.82,376.68 L561.31,378.70 L562.81,380.70 L564.30,382.66 L565.79,384.60 L567.29,386.52 L568.78,388.40 L570.28,390.26 L571.77,392.08 L573.26,393.88 L574.76,395.65 L576.25,397.39 L577.74,399.10 L579.24,400.78 L580.73,402.43 L582.22,404.05 L583.72,405.65 L585.21,407.22 L586.71,408.77 L588.20,410.29 L589.69,411.80 L591.19,413.28 L592.68,414.74 L594.18,416.19 L595.67,417.61 L597.16,419.02 L598.66,420.42 L600.15,421.80 L601.64,423.17 L603.14,424.52 L604.63,425.86 L606.12,427.20 L607.62,428.52 L609.11,429.84 L610.61,431.15 L612.10,432.46 L613.59,433.76 L615.09,435.05 L616.58,436.35 L618.08,437.64 L619.57,438.93 L621.06,440.23 L622.56,441.52 L624.05,442.82 L625.54,444.12 L627.04,445.43 L628.53,446.74 L630.02,448.06 L631.52,449.39 L633.01,450.73 L634.51,452.08 L636.00,453.44 L637.49,454.81 L638.99,456.19 L640.48,457.59 L641.98,458.99 L643.47,460.40 L644.96,461.81 L646.46,463.23 L647.95,464.65 L649.44,466.08 L650.94,467.50 L652.43,468.92 L653.93,470.35 L655.42,471.76 L656.91,473.17 L658.41,474.58 L659.90,475.97 L661.39,477.36 L662.89,478.74 L664.38,480.10 L665.88,481.45 L667.37,482.79 L668.86,484.11 L670.36,485.41 L671.85,486.69 L673.34,487.95 L674.84,489.19 L676.33,490.41 L677.83,491.60 L679.32,492.77 L680.81,493.91 L682.31,495.02 L683.80,496.10 L685.29,497.15 L686.79,498.16 L688.28,499.14 L689.77,500.09 L691.27,501.00 L692.76,501.87 L694.26,502.70 L695.75,503.49 L697.24,504.24 L698.74,504.95 L700.23,505.61 L701.73,506.38 L703.22,507.58 L704.71,508.68 L706.21,509.70 L707.70,510.63 L709.19,511.49 L710.69,511.60 L712.18,511.60 L713.68,511.60 L715.17,511.60 L716.66,511.60 L718.16,511.60 L719.65,511.60 L721.14,511.60 L722.64,511.60 L724.13,511.60 L725.62,511.60 L727.12,511.60 L728.61,511.60 L730.11,511.60 L731.60,511.60 L733.09,511.60 L734.59,511.60 L736.08,511.60 L737.58,511.60 L739.07,511.60 L740.56,511.60 L742.06,511.60 L743.55,511.60 L745.04,511.60 L746.54,511.60 L748.03,511.60 L749.52,511.60 L751.02,511.60 L752.51,511.60 L754.01,511.60 L755.50,511.60" fill="none" stroke="#000" stroke-width="2" stroke-dasharray="1.875 5.625" stroke-linecap="round" stroke-linejoin="round"/>
<g stroke="#d3d3d3" stroke-width="0.94" stroke-dasharray="0.94 2.81" stroke-linecap="round" fill="none">
<path d="M71.49,511.60 H781.8"/>
<path d="M71.49,441.10 H781.8"/>
<path d="M71.49,370.60 H781.8"/>
<path d="M71.49,300.10 H781.8"/>
<path d="M71.49,229.60 H781.8"/>
<path d="M71.49,159.10 H781.8"/>
<path d="M158.00,528.17 V90.9"/>
<path d="M277.50,528.17 V90.9"/>
<path d="M397.00,528.17 V90.9"/>
<path d="M516.50,528.17 V90.9"/>
<path d="M636.00,528.17 V90.9"/>
<path d="M755.50,528.17 V90.9"/>
</g>
<g stroke="#000" stroke-width="0.94" fill="none">
<path d="M71.96,89.4 V511.60"/>
<path d="M71.96,511.60 h-9.6"/>
<path d="M71.96,441.10 h-9.6"/>
<path d="M71.96,370.60 h-9.6"/>
<path d="M71.96,300.10 h-9.6"/>
<path d="M71.96,229.60 h-9.6"/>
<path d="M71.96,159.10 h-9.6"/>
<path d="M98.25,527.7 v9.6"/>
<path d="M158.00,527.7 v9.6"/>
<path d="M217.75,527.7 v9.6"/>
<path d="M277.50,527.7 v9.6"/>
<path d="M337.25,527.7 v9.6"/>
<path d="M397.00,527.7 v9.6"/>
<path d="M456.75,527.7 v9.6"/>
<path d="M516.50,527.7 v9.6"/>
<path d="M576.25,527.7 v9.6"/>
<path d="M636.00,527.7 v9.6"/>
<path d="M695.75,527.7 v9.6"/>
<path d="M755.50,527.7 v9.6"/>
</g>
<g class="t" fill="#000">
<g font-size="14.4" text-anchor="end">
<text x="54.2" y="516.80">0</text>
<text x="54.2" y="446.30">20</text>
<text x="54.2" y="375.80">40</text>
<text x="54.2" y="305.30">60</text>
<text x="54.2" y="234.80">80</text>
<text x="54.2" y="164.30">100</text>
</g>
<text font-size="14.4" text-anchor="middle" transform="translate(13.6,309.3) rotate(-90)">Water (mm)</text>
<g font-size="14.4" font-weight="bold" text-anchor="middle">
<text x="98.25" y="559.5">Jan</text>
<text x="158.00" y="559.5">Feb</text>
<text x="217.75" y="559.5">Mar</text>
<text x="277.50" y="559.5">Apr</text>
<text x="337.25" y="559.5">May</text>
<text x="397.00" y="559.5">Jun</text>
<text x="456.75" y="559.5">Jul</text>
<text x="516.50" y="559.5">Aug</text>
<text x="576.25" y="559.5">Sep</text>
<text x="636.00" y="559.5">Oct</text>
<text x="695.75" y="559.5">Nov</text>
<text x="755.50" y="559.5">Dec</text>
</g>
<g font-size="12.8" font-weight="bold" text-anchor="middle">
<text x="427.3" y="20.8">REAVIS</text>
<text x="427.3" y="35.7">FINE-LOAMY, MIXED, SUPERACTIVE, FRIGID CALCIC HAPLOXEROLLS</text>
</g>
<text font-size="12.8" x="97.6" y="586.4" textLength="97.1" lengthAdjust="spacing">Storage: 240 mm</text>
<text font-size="17" stroke="#000" stroke-width="0.35" transform="translate(638.1,581.6) scale(1.08,0.9)">∑</text>
<text font-size="12.8" x="651.9" y="581.8">Deficit</text>
<text font-size="12.8" x="691.2" y="581.8" textLength="9.6" lengthAdjust="spacingAndGlyphs">=</text>
<text font-size="12.8" text-anchor="end" x="755.6" y="581.8">-145 mm</text>
<g font-size="13.6">
<rect x="104" y="73" width="13" height="13" fill="#759CC9"/>
<text x="123.3" y="83.7" textLength="118.6" lengthAdjust="spacing">Surplus / Recharge</text>
<rect x="248" y="73" width="13" height="13" fill="#7FC47D"/>
<text x="267.2" y="83.7">Utilization</text>
<rect x="392.3" y="73" width="13" height="13" fill="#EB6D6E"/>
<text x="410.6" y="83.7">Deficit</text>
<text x="573.7" y="83.7">PPT</text>
<text x="648.8" y="83.7">PET</text>
<text x="723.6" y="83.7">AET</text>
</g>
</g>
<g stroke="#000" stroke-width="2" stroke-linecap="round" fill="none">
<path d="M538,79.3 H562"/>
<path d="M612.5,79.3 H635.5" stroke-dasharray="8 8"/>
<path d="M687,79.3 H712.6" stroke-dasharray="2 6"/>
</g>
</svg>
</body></html>
